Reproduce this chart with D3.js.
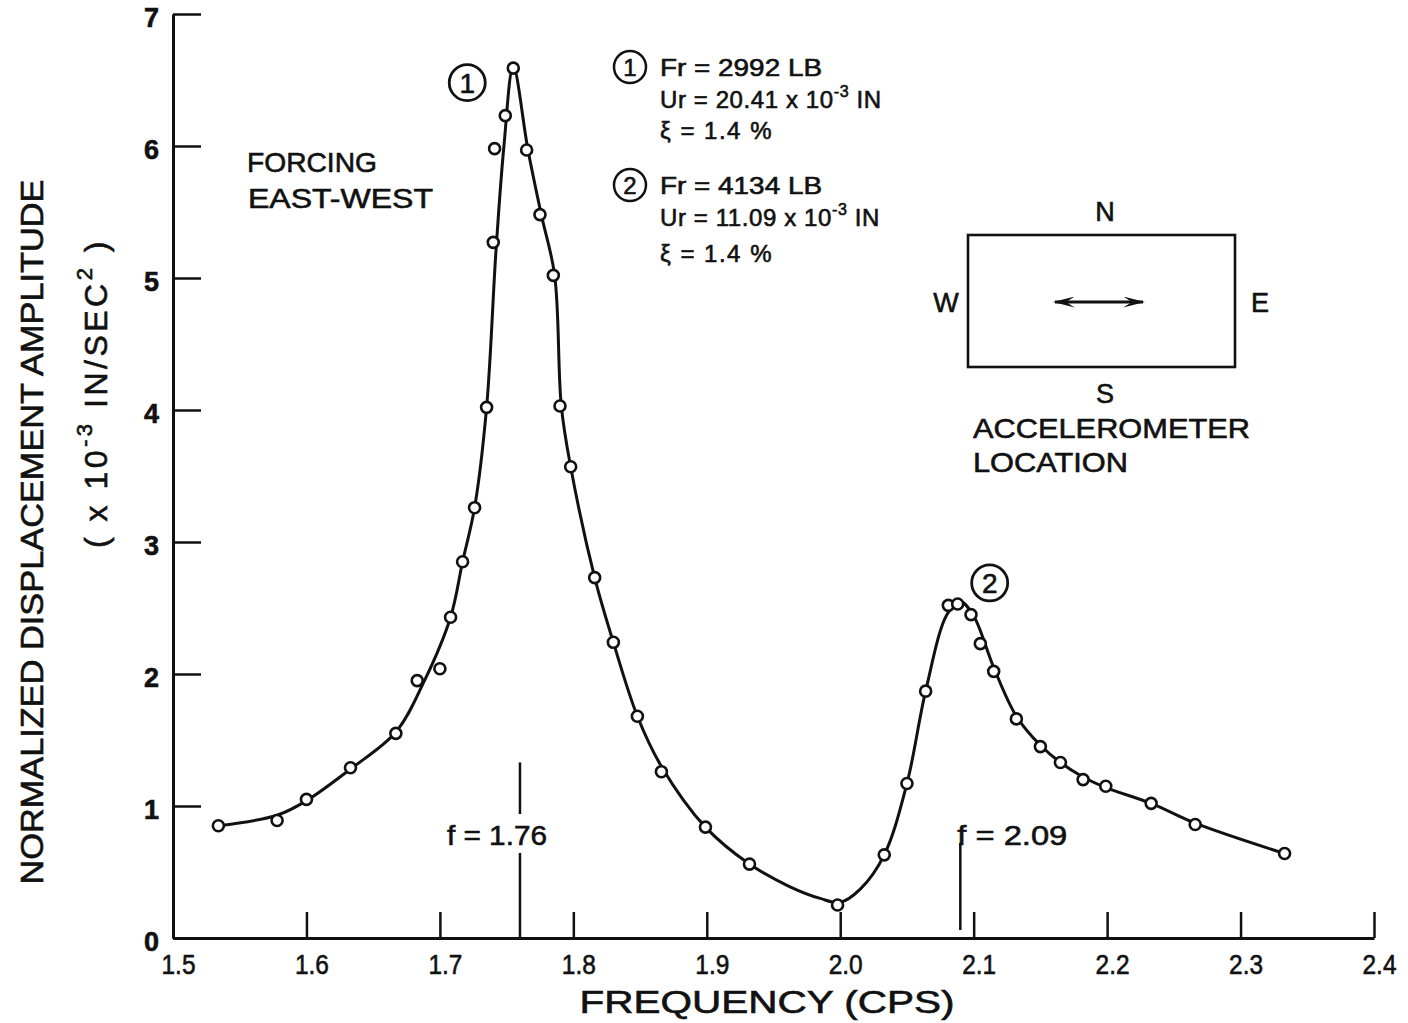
<!DOCTYPE html>
<html>
<head>
<meta charset="utf-8">
<script src="https://cdn.jsdelivr.net/npm/d3@7"></script>
<style>
  body { margin: 0; background: #fff; }
  text { font-family: "Liberation Sans", Arial, sans-serif; fill: #111; stroke: #111; stroke-width: 0.6; }
</style>
</head>
<body>
<div id="viz-container"></div>
<script>
// measured points (frequency in cps, amplitude x10^-3 in/sec^2)
var FREQ = [1.534, 1.578, 1.600, 1.633, 1.667, 1.683, 1.700, 1.708, 1.717, 1.726, 1.735,
	1.740, 1.741, 1.749, 1.755, 1.765, 1.775, 1.785, 1.790, 1.798, 1.816, 1.830, 1.848,
	1.866, 1.899, 1.932, 1.998, 2.033, 2.050, 2.064, 2.081, 2.088, 2.098, 2.105, 2.115,
	2.132, 2.150, 2.165, 2.182, 2.199, 2.233, 2.266, 2.333];
var AMP = [0.85, 0.89, 1.05, 1.29, 1.55, 1.95, 2.04, 2.43, 2.85, 3.26, 4.02,
	5.27, 5.98, 6.23, 6.59, 5.97, 5.48, 5.02, 4.03, 3.57, 2.73, 2.24, 1.68,
	1.26, 0.84, 0.56, 0.25, 0.63, 1.17, 1.87, 2.52, 2.53, 2.45, 2.23, 2.02,
	1.66, 1.45, 1.33, 1.20, 1.15, 1.02, 0.86, 0.64];

// hand-faired curve through the points
var CURVE_F = [1.534, 1.578, 1.600, 1.633, 1.667, 1.688, 1.708, 1.717, 1.726, 1.735, 1.742,
	1.748, 1.755, 1.766, 1.776, 1.786, 1.791, 1.798, 1.816, 1.830, 1.848, 1.866, 1.899,
	1.932, 1.962, 1.985, 2.000, 2.015, 2.033, 2.050, 2.064, 2.080, 2.090, 2.100, 2.115,
	2.132, 2.150, 2.165, 2.182, 2.199, 2.233, 2.266, 2.333];
var CURVE_A = [0.85, 0.93, 1.04, 1.28, 1.56, 1.94, 2.43, 2.85, 3.26, 4.02, 5.2,
	6.0, 6.6, 5.97, 5.48, 5.02, 4.03, 3.57, 2.73, 2.24, 1.68, 1.30, 0.84,
	0.56, 0.39, 0.30, 0.27, 0.37, 0.63, 1.17, 1.87, 2.45, 2.55, 2.44, 2.05,
	1.68, 1.46, 1.33, 1.22, 1.14, 1.02, 0.87, 0.64];

var X_TICKS = [1.5, 1.6, 1.7, 1.8, 1.9, 2.0, 2.1, 2.2, 2.3, 2.4];
var Y_TICKS = [0, 1, 2, 3, 4, 5, 6, 7];

// resonance markers: frequency, label, top of line (amplitude units)
var MARK_F = [1.76, 2.09];
var MARK_LABEL = ["f = 1.76", "f = 2.09"];
var MARK_TOP = [1.33, 0.72];

var PEAK_NUM = ["1", "2"];
var PEAK_F = [1.7205, 2.112];
var PEAK_A = [6.48, 2.69];

function init() {
	var svg = d3.select('#viz-container').append('svg')
		.attr('width', 1408)
		.attr('height', 1023);

	var x = d3.scaleLinear().domain([1.5, 2.4]).range([173, 1374]);
	var y = d3.scaleLinear().domain([0, 7]).range([938, 14]);

	var g = svg.append('g');

	// axes
	var xAxis = g.append('g')
		.attr('transform', 'translate(0,' + y(0) + ')')
		.call(d3.axisBottom(x).tickValues(X_TICKS).tickSize(-26).tickSizeOuter(0)
			.tickPadding(16).tickFormat(d3.format('.1f')));
	xAxis.select('.domain').attr('stroke-width', 3);
	xAxis.selectAll('.tick line').attr('stroke-width', 2.5);
	xAxis.selectAll('.tick text')
		.attr('font-size', 28)
		.attr('dx', 5)
		.attr('textLength', 34)
		.attr('lengthAdjust', 'spacingAndGlyphs')
		.attr('fill', '#111');

	var yAxis = g.append('g')
		.attr('transform', 'translate(' + x(1.5) + ',0)')
		.call(d3.axisLeft(y).tickValues(Y_TICKS).tickSize(-28).tickSizeOuter(0)
			.tickPadding(14).tickFormat(d3.format('d')));
	yAxis.select('.domain').attr('stroke-width', 3);
	yAxis.selectAll('.tick line').attr('stroke-width', 2.5);
	yAxis.selectAll('.tick text')
		.attr('font-size', 27)
		.attr('font-weight', 'bold')
		.attr('dy', '0.45em')
		.attr('fill', '#111');
	svg.selectAll('.domain, .tick line').attr('stroke', '#111');

	// axis titles
	svg.append('text')
		.attr('transform', 'translate(43,532) rotate(-90)')
		.attr('text-anchor', 'middle')
		.attr('font-size', 31)
		.attr('textLength', 705)
		.attr('lengthAdjust', 'spacingAndGlyphs')
		.text('NORMALIZED DISPLACEMENT AMPLITUDE');

	var yt2 = svg.append('text')
		.attr('transform', 'translate(107,393) rotate(-90)')
		.attr('text-anchor', 'middle')
		.attr('font-size', 32)
		.attr('letter-spacing', 3.5);
	yt2.append('tspan').text('( x 10');
	yt2.append('tspan').attr('dy', -15).attr('font-size', 22).text('-3');
	yt2.append('tspan').attr('dy', 15).text(' IN/SEC');
	yt2.append('tspan').attr('dy', -15).attr('font-size', 22).text('2');
	yt2.append('tspan').attr('dy', 15).text('  )');

	svg.append('text')
		.attr('x', 767).attr('y', 1013)
		.attr('text-anchor', 'middle')
		.attr('font-size', 31)
		.attr('textLength', 375)
		.attr('lengthAdjust', 'spacingAndGlyphs')
		.text('FREQUENCY  (CPS)');

	// resonance marker lines
	MARK_F.forEach(function(f, i) {
		var lx = x(f);
		if (i === 0) {
			g.append('line').attr('x1', lx).attr('x2', lx).attr('y1', y(MARK_TOP[i])).attr('y2', 814)
				.attr('stroke', '#111').attr('stroke-width', 2.5);
			g.append('line').attr('x1', lx).attr('x2', lx).attr('y1', 853).attr('y2', y(0))
				.attr('stroke', '#111').attr('stroke-width', 2.5);
			g.append('text').attr('x', lx - 73).attr('y', 845)
				.attr('font-size', 28).attr('textLength', 100).attr('lengthAdjust', 'spacingAndGlyphs')
				.text(MARK_LABEL[i]);
		} else {
			g.append('line').attr('x1', lx).attr('x2', lx).attr('y1', y(MARK_TOP[i])).attr('y2', y(0) - 8)
				.attr('stroke', '#111').attr('stroke-width', 2.5);
			g.append('text').attr('x', lx - 3).attr('y', 845)
				.attr('font-size', 28).attr('textLength', 110).attr('lengthAdjust', 'spacingAndGlyphs')
				.text(MARK_LABEL[i]);
		}
	});

	// faired curve
	var curve = CURVE_F.map(function(f, i) { return [f, CURVE_A[i]]; });
	g.append('path')
		.datum(curve)
		.attr('fill', 'none')
		.attr('stroke', '#111')
		.attr('stroke-width', 3)
		.attr('d', d3.line()
			.x(function(d) { return x(d[0]); })
			.y(function(d) { return y(d[1]); })
			.curve(d3.curveCatmullRom.alpha(0.5)));

	// data points
	g.append('g').selectAll('circle')
		.data(FREQ)
		.enter().append('circle')
		.attr('cx', function(d) { return x(d); })
		.attr('cy', function(d, i) { return y(AMP[i]); })
		.attr('r', 5.5)
		.attr('fill', '#fff')
		.attr('stroke', '#111')
		.attr('stroke-width', 2.6);

	// circled peak numbers
	PEAK_NUM.forEach(function(n, i) {
		var cx = x(PEAK_F[i]), cy = y(PEAK_A[i]);
		g.append('circle').attr('cx', cx).attr('cy', cy).attr('r', 18)
			.attr('fill', 'none').attr('stroke', '#111').attr('stroke-width', 2.8);
		g.append('text').attr('x', cx).attr('y', cy + 10)
			.attr('text-anchor', 'middle').attr('font-size', 28).text(n);
	});

	// forcing note
	svg.append('text').attr('x', 247).attr('y', 172).attr('font-size', 28)
		.attr('textLength', 130).attr('lengthAdjust', 'spacingAndGlyphs').text('FORCING');
	svg.append('text').attr('x', 248).attr('y', 208).attr('font-size', 28)
		.attr('textLength', 185).attr('lengthAdjust', 'spacingAndGlyphs').text('EAST-WEST');

	// response parameters
	var params = [
		{num: '1', top: 67, fr: '2992', ur: '20.41', gap: [32, 63]},
		{num: '2', top: 185, fr: '4134', ur: '11.09', gap: [32, 68]}
	];
	params.forEach(function(p) {
		var blk = svg.append('g');
		blk.append('circle').attr('cx', 630).attr('cy', p.top).attr('r', 16)
			.attr('fill', 'none').attr('stroke', '#111').attr('stroke-width', 2.5);
		blk.append('text').attr('x', 630).attr('y', p.top + 8.5).attr('text-anchor', 'middle')
			.attr('font-size', 24).text(p.num);
		blk.append('text').attr('x', 660).attr('y', p.top + 9).attr('font-size', 24)
			.attr('textLength', 162).attr('lengthAdjust', 'spacingAndGlyphs')
			.text('Fr = ' + p.fr + ' LB');
		var ur = blk.append('text').attr('x', 660).attr('y', p.top + 9 + p.gap[0]).attr('font-size', 24)
			.attr('letter-spacing', 0.6);
		ur.append('tspan').text('Ur = ' + p.ur + ' x 10');
		ur.append('tspan').attr('dy', -11).attr('font-size', 16).text('-3');
		ur.append('tspan').attr('dy', 11).text(' IN');
		blk.append('text').attr('x', 660).attr('y', p.top + 9 + p.gap[1]).attr('font-size', 24)
			.attr('letter-spacing', 1.5).text('\u03BE   = 1.4 %');
	});

	// accelerometer location sketch
	var box = svg.append('g');
	box.append('rect').attr('x', 968).attr('y', 235).attr('width', 267).attr('height', 132)
		.attr('fill', 'none').attr('stroke', '#111').attr('stroke-width', 2.6);
	var lbl = [['N', 1105, 221], ['S', 1105, 403], ['W', 946, 312], ['E', 1260, 312]];
	lbl.forEach(function(l) {
		box.append('text').attr('x', l[1]).attr('y', l[2]).attr('text-anchor', 'middle')
			.attr('font-size', 27).text(l[0]);
	});
	svg.append('defs').append('marker')
		.attr('id', 'ah').attr('viewBox', '0 0 10 10').attr('refX', 9).attr('refY', 5)
		.attr('markerWidth', 22).attr('markerHeight', 11).attr('orient', 'auto-start-reverse')
		.attr('markerUnits', 'userSpaceOnUse')
		.attr('preserveAspectRatio', 'none')
		.append('path').attr('d', 'M0,0 L10,5 L0,10 L4,5 Z').attr('fill', '#111');
	box.append('line').attr('x1', 1055).attr('x2', 1143).attr('y1', 302).attr('y2', 302)
		.attr('stroke', '#111').attr('stroke-width', 2.8)
		.attr('marker-start', 'url(#ah)').attr('marker-end', 'url(#ah)');
	box.append('text').attr('x', 973).attr('y', 438).attr('font-size', 28)
		.attr('textLength', 277).attr('lengthAdjust', 'spacingAndGlyphs').text('ACCELEROMETER');
	box.append('text').attr('x', 973).attr('y', 472).attr('font-size', 28)
		.attr('textLength', 155).attr('lengthAdjust', 'spacingAndGlyphs').text('LOCATION');
}

init();
</script>
</body>
</html>
